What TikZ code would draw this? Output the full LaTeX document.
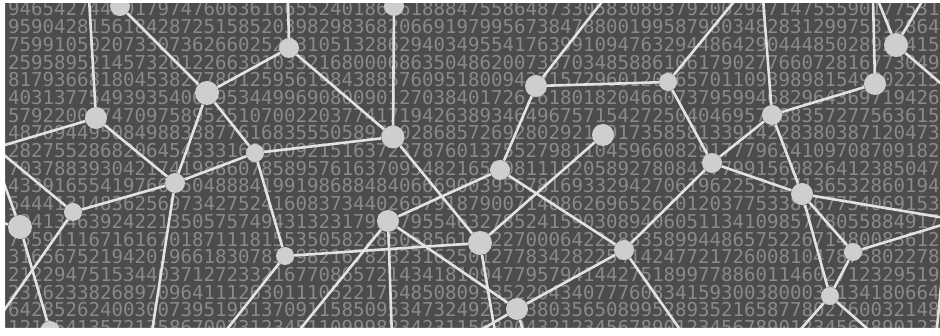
\documentclass[tikz,border=0pt]{standalone}
\usepackage{fontspec}
\newfontfamily\digitfont{DejaVu Sans Mono}
\definecolor{bgc}{RGB}{76,76,76}
\definecolor{digc}{RGB}{138,138,138}
\definecolor{edgec}{RGB}{226,226,226}
\definecolor{dotc}{RGB}{206,206,206}
\pgfdeclarelayer{back}
\pgfdeclarelayer{mid}
\pgfsetlayers{back,mid,main}
\begin{document}
\begin{tikzpicture}[x=1pt,y=-1pt,
  dot/.style={circle,fill=dotc,inner sep=0pt,minimum size=#1},
  link/.style={draw=edgec,line width=2.6pt},
  digits/.style={anchor=west,inner sep=0pt,text=digc,font=\digitfont\fontsize{19.1}{19}\selectfont}]
\useasboundingbox (0,0) rectangle (940,336);
\begin{pgfonlayer}{back}
\fill[bgc] (0,0) rectangle (940,336);
\foreach \s [count=\i] in {
946542744501797476063616655240186061888475586487330583089379200294714755590177531,
959042815618428725158520398298368206691979956738478800199587980348283129975312864,
759910502073307362660252431051328629403495541763991094763294486429044485028927415,
259589521457320122663910332168000686350486200735703485886106179027766072816773049,
817936681804538277891259561984388576095180094321572960120565701109398981549602215,
403137754939354066953449969080090127038401726261801820466073795994682964369719426,
579220097470975895251070022037741719426389346496757154272504046957188357277563615,
487094495084988338776168355505897002868572692802921291735858133914228380387120473,
282755286820645433316090092151637237876013755279811045966082917779624109708709182,
703788393042174198860785895761637095482165298111520589278084177991560826412385047,
433916554197661504888419919868848406669003956781693329427061962253127136532860194,
544413148362569734275241608373440269791879007140862696526201203775338667754069153,
324134639242213505757494313231795579554632785241590308940605113410985778055884917,
755911167161670187111815535058228505856139227000642228835899448657522671480083612,
316567521942019661830783598216782823162501277834282254142477217260081047875802278,
212294751534403712723321677086572143418109477957941442751899778860114602712329519,
237623382689709641112630111052217548508093352204340777608341593003800039134180664,
642852624003007395195137091158509534732492374380356508995289352165877802760032148,
121354135721358670023123451109998234231156890432123456789012345678901234567890123}
  \node[digits] (row\i) at (8,{9+(\i-1)*17.7}) {\s};
\end{pgfonlayer}
% network nodes
\node[dot=20pt] (A) at (120,6) {};
\node[dot=20pt] (B) at (289,48) {};
\node[dot=24pt] (C) at (207,93) {};
\node[dot=22pt] (D) at (96,118) {};
\node[dot=18pt] (E) at (255,153) {};
\node[dot=20pt] (F) at (394,6) {};
\node[dot=23pt] (G) at (393,137) {};
\node[dot=22pt] (H) at (536,86) {};
\node[dot=22pt] (I) at (603,135) {};
\node[dot=20pt] (J) at (500,170) {};
\node[dot=18pt] (K) at (668,82) {};
\node[dot=20pt] (L) at (772,115) {};
\node[dot=22pt] (M) at (875,84) {};
\node[dot=24pt] (P2) at (896,45) {};
\node[dot=20pt] (N) at (712,163) {};
\node[dot=22pt] (O) at (802,194) {};
\node[dot=18pt] (P) at (853,252) {};
\node[dot=20pt] (Q) at (624,250) {};
\node[dot=18pt] (R) at (830,296) {};
\node[dot=22pt] (S) at (388,221) {};
\node[dot=24pt] (T) at (480,243) {};
\node[dot=22pt] (U) at (517,309) {};
\node[dot=20pt] (V) at (175,183) {};
\node[dot=18pt] (W) at (73,212) {};
\node[dot=24pt] (X) at (20,227) {};
\node[dot=18pt] (Y) at (285,256) {};
\node[dot=20pt] (Z) at (50,331) {};
% border end points
\coordinate (t1) at (89,-2);
\coordinate (t2) at (288,-2);
\coordinate (t3) at (605,-2);
\coordinate (t4) at (737,-2);
\coordinate (t5) at (763,-2);
\coordinate (t6) at (873,-2);
\coordinate (t7) at (877,-2);
\coordinate (t8) at (924,-2);
\coordinate (l1) at (-2,147);
\coordinate (l2) at (-2,150);
\coordinate (l3) at (-2,319);
\coordinate (l4) at (-2,222);
\coordinate (l5) at (2,178);
\coordinate (b1) at (151,338);
\coordinate (b2) at (220,338);
\coordinate (b3) at (293,338);
\coordinate (b4) at (392,338);
\coordinate (b5) at (496,338);
\coordinate (b6) at (467,338);
\coordinate (b7) at (525,338);
\coordinate (b8) at (686,338);
\coordinate (b9) at (793,338);
\coordinate (b10) at (878,338);
\coordinate (e1) at (945,87);
\coordinate (e2) at (945,218);
\coordinate (e3) at (945,224);
\coordinate (e4) at (941,286);
\coordinate (e5) at (936,338);
\begin{pgfonlayer}{mid}
\draw[link] (A) -- (C);
\draw[link] (t1) -- (D);
\draw[link] (t2) -- (B);
\draw[link] (B) -- (C);
\draw[link] (B) -- (G);
\draw[link] (C) -- (V);
\draw[link] (C) -- (E);
\draw[link] (l1) -- (D);
\draw[link] (D) -- (V);
\draw[link] (E) -- (G);
\draw[link] (E) -- (Y);
\draw[link] (V) -- (E);
\draw[link] (V) -- (b1);
\draw[link] (W) -- (V);
\draw[link] (l2) -- (W);
\draw[link] (W) -- (l3);
\draw[link] (l4) -- (X);
\draw[link] (l5) -- (X);
\draw[link] (X) -- (Z);
\draw[link] (Y) -- (T);
\draw[link] (Y) -- (b2);
\draw[link] (S) -- (b3);
\draw[link] (S) -- (J);
\draw[link] (S) -- (b4);
\draw[link] (S) -- (U);
\draw[link] (F) -- (G);
\draw[link] (G) -- (T);
\draw[link] (T) -- (I);
\draw[link] (T) -- (b5);
\draw[link] (J) -- (Q);
\draw[link] (H) -- (J);
\draw[link] (U) -- (Q);
\draw[link] (U) -- (b6);
\draw[link] (U) -- (b7);
\draw[link] (H) -- (t3);
\draw[link] (H) -- (K);
\draw[link] (K) -- (t4);
\draw[link] (K) -- (N);
\draw[link] (Q) -- (N);
\draw[link] (Q) -- (b8);
\draw[link] (N) -- (O);
\draw[link] (t5) -- (L);
\draw[link] (L) -- (M);
\draw[link] (L) -- (N);
\draw[link] (L) -- (O);
\draw[link] (t6) -- (M);
\draw[link] (t7) -- (P2);
\draw[link] (t8) -- (P2);
\draw[link] (P2) -- (e1);
\draw[link] (O) -- (e2);
\draw[link] (O) -- (P);
\draw[link] (O) -- (R);
\draw[link] (P) -- (e3);
\draw[link] (P) -- (R);
\draw[link] (R) -- (b9);
\draw[link] (R) -- (b10);
\draw[link] (e4) -- (e5);
\end{pgfonlayer}
% white frame
\fill[white,even odd rule] (-5,-5) rectangle (950,345) (5,3) rectangle (940,328);
\end{tikzpicture}
\end{document}
